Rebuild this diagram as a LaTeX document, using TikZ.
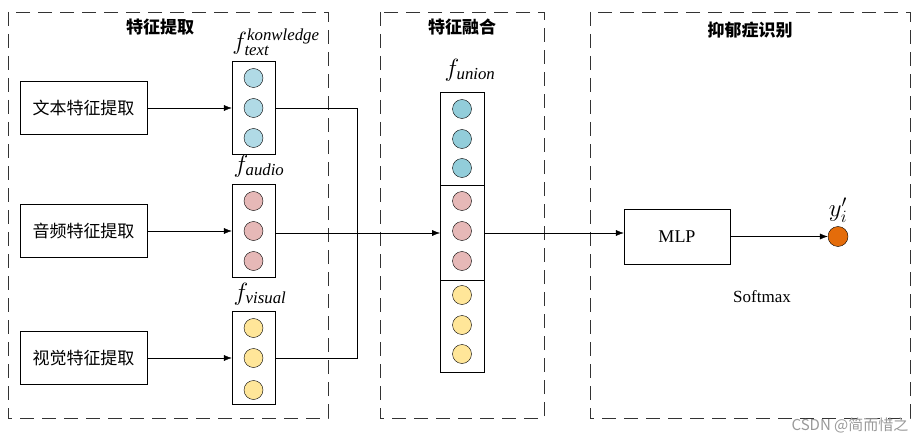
\documentclass[tikz,border=0pt]{standalone}
\usepackage{fontspec}
\setmainfont{Liberation Serif}
\newfontfamily\cjk{Noto Sans CJK SC}
\usetikzlibrary{arrows.meta}
\definecolor{cblue}{RGB}{176,218,230}
\definecolor{cblued}{RGB}{146,205,218}
\definecolor{cpink}{RGB}{230,184,183}
\definecolor{cyell}{RGB}{255,230,153}
\definecolor{corange}{RGB}{228,108,10}
\newcommand{\fsz}[1]{\fontsize{#1}{#1}\selectfont}
\tikzset{
  panel/.style={dash pattern=on 14pt off 8pt,thick,draw=black!80},
  ext/.style={draw,minimum width=127pt,minimum height=53pt,font=\cjk\fsz{17}},
  col/.style={draw,minimum width=43pt,minimum height=93pt},
  dot/.style={circle,draw,minimum size=19pt,inner sep=0pt},
  ttl/.style={font=\cjk\fsz{17}\bfseries},
  lbl/.style={font=\fsz{24}},
}
\begin{document}
\begin{tikzpicture}[x=1pt,y=-1pt,>={Latex[length=8pt,width=6pt]}]
  \useasboundingbox (0,0) rectangle (922,444);
  % panels
  \draw[panel] (8,12) rectangle (328,418);
  \draw[panel] (380,12) rectangle (544,418);
  \draw[panel] (590,12) rectangle (910,418);
  \node[ttl] (t1) at (160,27) {特征提取};
  \node[ttl] (t2) at (462,27) {特征融合};
  \node[ttl] (t3) at (750,30) {抑郁症识别};
  % extractors
  \node[ext] (etext) at (83.5,108) {文本特征提取};
  \node[ext] (eaudio) at (83.5,231) {音频特征提取};
  \node[ext] (evis) at (83.5,358) {视觉特征提取};
  % feature columns
  \node[col] (ctext) at (253.5,108) {};
  \node[col] (caudio) at (253.5,231) {};
  \node[col] (cvis) at (253.5,358) {};
  \foreach \y in {78,108,138} \node[dot,fill=cblue] at (253.5,\y) {};
  \foreach \y in {201,231,261} \node[dot,fill=cpink] at (253.5,\y) {};
  \foreach \y in {328,358,390} \node[dot,fill=cyell] at (253.5,\y) {};
  \node[lbl] (ltext) at (276,42) {$f_{\mathit{text}}^{\mathit{konwledge}}$};
  \node[lbl] (laudio) at (259,166) {$f_{\mathit{audio}}$};
  \node[lbl] (lvis) at (260,294) {$f_{\mathit{visual}}$};
  % union column
  \draw (440,92) rectangle (484,372);
  \draw (440,185) -- (484,185) (440,280) -- (484,280);
  \coordinate (uin) at (440,233);
  \coordinate (uout) at (484,233);
  \foreach \y in {109,139,168} \node[dot,fill=cblued] at (462,\y) {};
  \foreach \y in {201,231,261} \node[dot,fill=cpink] at (462,\y) {};
  \foreach \y in {295,325,354} \node[dot,fill=cyell] at (462,\y) {};
  \node[lbl] (lunion) at (470,70) {$f_{\mathit{union}}$};
  % connectors
  \draw[->] (etext) -- (ctext);
  \draw[->] (eaudio) -- (caudio);
  \draw[->] (evis) -- (cvis);
  \draw (ctext.east) -| (357,358) -- (cvis.east);
  \draw[->] (275,233) -- (uin);
  % recognition
  \node[draw,minimum width=106pt,minimum height=55pt,font=\fsz{18}] (mlp) at (677,236.5) {MLP};
  \node[circle,draw,fill=corange,minimum size=20pt,inner sep=0pt] (y) at (838,236.5) {};
  \node[lbl] (ly) at (838,210) {$y_i'$};
  \node[font=\fsz{17}] (smax) at (762,297) {Softmax};
  \draw[->] (uout) -- (mlp.west|-uout);
  \draw[->] (mlp) -- (y);
  \node[text=black!40,font=\cjk\fsz{15}] (wm) at (850,425) {CSDN @简而惜之};
\end{tikzpicture}
\end{document}
